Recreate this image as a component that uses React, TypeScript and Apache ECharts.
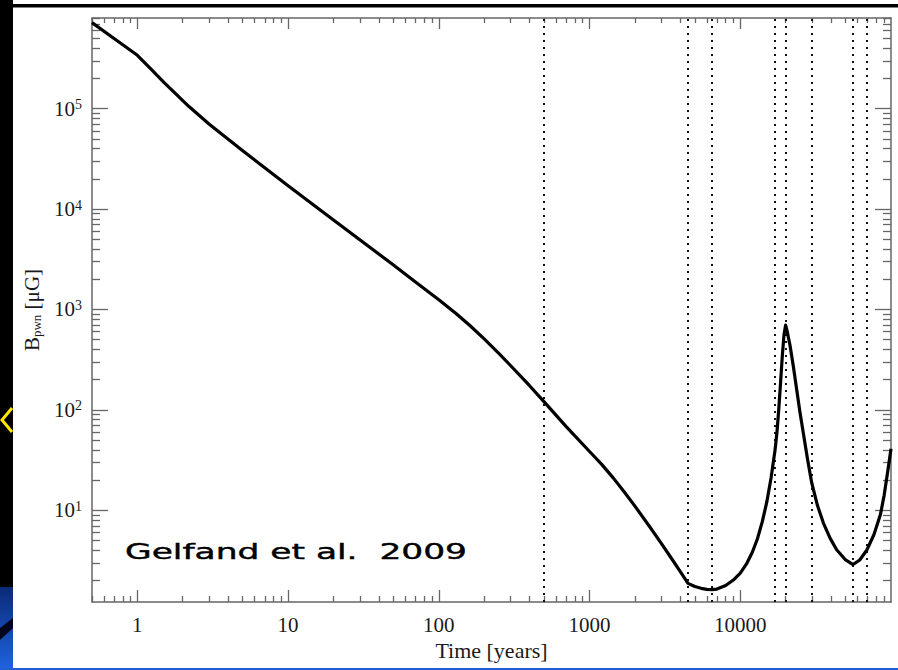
import { useEffect, useRef } from 'react';
import * as echarts from 'echarts';

// Magnetic field in the nebula versus age
const timeYears = [0.5, 0.7, 1, 1.2, 1.5, 2.2, 3, 5, 10, 20, 50, 70, 100, 130, 160, 200, 250, 300, 400, 500, 700, 1000, 1200, 1440, 1700, 2000, 2500, 3000, 3500, 4000, 4500, 5000, 5500, 6000, 6500, 7000, 8000, 9000, 10000, 11000, 12000, 13000, 14000, 15000, 16000, 17000, 17500, 18000, 18500, 19000, 19500, 20000, 20500, 21000, 21400, 22500, 23700, 24800, 26000, 28000, 29800, 32500, 35600, 39500, 43600, 50000, 56000, 62000, 69000, 77000, 85000, 90000, 95000, 100000];
const fieldMicroGauss = [7.2e5, 5.0e5, 3.4e5, 2.58e5, 1.83e5, 1.05e5, 7.0e4, 3.8e4, 1.71e4, 7.8e3, 2.77e3, 1.88e3, 1.25e3, 912, 697, 509, 365, 275, 174, 120, 68, 38.5, 28.8, 20.9, 15.2, 11.0, 6.9, 4.66, 3.31, 2.45, 1.87, 1.74, 1.67, 1.63, 1.62, 1.64, 1.78, 2.02, 2.37, 2.92, 3.8, 5.2, 7.7, 12.1, 21, 39.5, 59, 101, 185, 342, 560, 700, 603, 500, 436, 270, 158, 98, 63, 31.6, 18.7, 11.2, 7.46, 5.25, 4.05, 3.2, 2.88, 3.2, 4.0, 5.7, 9.0, 14, 24, 41];

// Epochs marked by vertical dotted lines (years)
const transitionTimes = [500, 4500, 6500, 17000, 20000, 30000, 56000, 69000];

const xLabelTicks = [1, 10, 100, 1000, 10000];
const yLabelTicks = [10, 100, 1000, 10000, 100000];
const xRange = [0.5, 1e5];
const yRange = [1.22, 8e5];

const xTitle = 'Time [years]';
const annotation = 'Gelfand et al.  2009';

const SERIF = '"Liberation Serif", "Times New Roman", serif';
const AXIS_COLOR = '#666';
const TEXT_COLOR = '#1a1a1a';

// 2..9 times each power of ten inside [lo, hi]
function minorTickValues(lo: number, hi: number): number[] {
  const out: number[] = [];
  const e0 = Math.floor(Math.log10(lo));
  const e1 = Math.ceil(Math.log10(hi));
  for (let e = e0; e <= e1; e++) {
    for (let m = 2; m <= 9; m++) {
      const v = m * Math.pow(10, e);
      if (v >= lo * 0.999 && v <= hi * 1.001) out.push(v);
    }
  }
  return out;
}

function logAxis(
  range: number[],
  position: string,
  ticks: number[],
  tickLen: number,
  showLine: boolean,
  label: any
) {
  return {
    type: 'log',
    logBase: 10,
    min: range[0],
    max: range[1],
    position,
    axisLine: { show: showLine, lineStyle: { color: AXIS_COLOR, width: 1.5 } },
    axisTick: {
      show: true,
      inside: true,
      length: tickLen,
      customValues: ticks,
      lineStyle: { color: AXIS_COLOR, width: 1.3 },
    },
    axisLabel: label || { show: false },
    minorTick: { show: false },
    splitLine: { show: false },
    splitArea: { show: false },
  };
}

export default function App() {
  const ref = useRef<HTMLDivElement>(null);

  useEffect(() => {
    if (!ref.current) return;
    const chart = echarts.init(ref.current, undefined, { renderer: 'svg' });

    const xMinor = minorTickValues(xRange[0], xRange[1]);
    const yMinor = minorTickValues(yRange[0], yRange[1]);

    const xBottom: any = logAxis(xRange, 'bottom', xLabelTicks, 12, true, {
      show: true,
      customValues: xLabelTicks,
      margin: 12,
      fontFamily: SERIF,
      fontSize: 21,
      color: TEXT_COLOR,
      formatter: (v: number) => String(Math.round(v)),
    });
    xBottom.name = xTitle;
    xBottom.nameLocation = 'middle';
    xBottom.nameGap = 31;
    xBottom.nameTextStyle = { fontFamily: SERIF, fontSize: 22, color: TEXT_COLOR };

    const yLeft: any = logAxis(yRange, 'left', yLabelTicks, 16, true, {
      show: true,
      customValues: yLabelTicks,
      margin: 10,
      formatter: (v: number) => `{base|10}{exp|${Math.round(Math.log10(v))}}`,
      rich: {
        base: { fontFamily: SERIF, fontSize: 21, color: TEXT_COLOR, lineHeight: 22 },
        exp: { fontFamily: SERIF, fontSize: 14, color: TEXT_COLOR, lineHeight: 13, verticalAlign: 'top' },
      },
    });
    yLeft.name = '{b|B}{s|pwn}{b| [\u03bcG]}';
    yLeft.nameLocation = 'middle';
    yLeft.nameGap = 45;
    yLeft.nameRotate = 90;
    yLeft.nameTextStyle = {
      rich: {
        b: { fontFamily: SERIF, fontSize: 21, color: TEXT_COLOR, lineHeight: 22, verticalAlign: 'top' },
        s: { fontFamily: SERIF, fontSize: 13, color: TEXT_COLOR, lineHeight: 13, padding: [16, 0, 0, 0], verticalAlign: 'bottom' },
      },
    };

    const option: any = {
      animation: false,
      backgroundColor: '#ffffff',
      grid: { left: 92, right: 7, top: 18, bottom: 68, containLabel: false, outerBoundsMode: 'none' },
      xAxis: [
        xBottom,
        logAxis(xRange, 'bottom', xMinor, 6, false, null),
        logAxis(xRange, 'top', xLabelTicks, 11, true, null),
        logAxis(xRange, 'top', xMinor, 5, false, null),
      ],
      yAxis: [
        yLeft,
        logAxis(yRange, 'left', yMinor, 8, false, null),
        logAxis(yRange, 'right', yLabelTicks, 16, true, null),
        logAxis(yRange, 'right', yMinor, 8, false, null),
      ],
      series: [
        {
          type: 'line',
          xAxisIndex: 0,
          yAxisIndex: 0,
          data: timeYears.map((t, i) => [t, fieldMicroGauss[i]]),
          showSymbol: false,
          symbol: 'none',
          smooth: false,
          z: 3,
          lineStyle: { color: '#000', width: 3.2, join: 'round' },
          markLine: {
            silent: true,
            z: 1,
            symbol: ['none', 'none'],
            label: { show: false },
            lineStyle: { color: '#111', width: 2, type: [2, 5], cap: 'butt' },
            emphasis: { disabled: true },
            data: transitionTimes.map((t) => ({ xAxis: t })),
          },
        },
      ],
      graphic: [
        // slide frame around the figure
        { type: 'rect', shape: { x: 0, y: 0, width: 13, height: 588 }, style: { fill: '#000' }, silent: true },
        {
          type: 'rect',
          shape: { x: 0, y: 587, width: 13, height: 83 },
          style: {
            fill: new echarts.graphic.LinearGradient(0, 0, 0, 1, [
              { offset: 0, color: '#0b2a78' },
              { offset: 1, color: '#1f63e0' },
            ]),
          },
          silent: true,
        },
        { type: 'polygon', shape: { points: [[0, 628], [13, 618], [13, 628], [0, 640]] }, style: { fill: '#02061a' }, silent: true },
        { type: 'polyline', shape: { points: [[12, 408], [2, 420], [12, 432]] }, style: { stroke: '#ffe600', lineWidth: 3, fill: 'none' }, silent: true },
        { type: 'rect', shape: { x: 13, y: 4, width: 885, height: 3.5 }, style: { fill: '#000' }, silent: true },
        { type: 'rect', shape: { x: 0, y: 668, width: 898, height: 2 }, style: { fill: '#1f5fd0' }, silent: true },
        {
          type: 'text',
          x: 125,
          y: 552.5,
          scaleX: 1.64,
          style: {
            text: annotation,
            fontFamily: '"DejaVu Sans", "Noto Sans", sans-serif',
            fontSize: 21,
            fill: '#000',
            stroke: '#000',
            lineWidth: 0.4,
            align: 'left',
            verticalAlign: 'middle',
            textAlign: 'left',
            textVerticalAlign: 'middle',
          },
          silent: true,
        },
      ],
    };

    chart.setOption(option);
    return () => chart.dispose();
  }, []);

  return (
    <div
      ref={ref}
      style={{ position: 'fixed', left: 0, top: 0, width: 898, height: 670, background: '#fff' }}
    />
  );
}
